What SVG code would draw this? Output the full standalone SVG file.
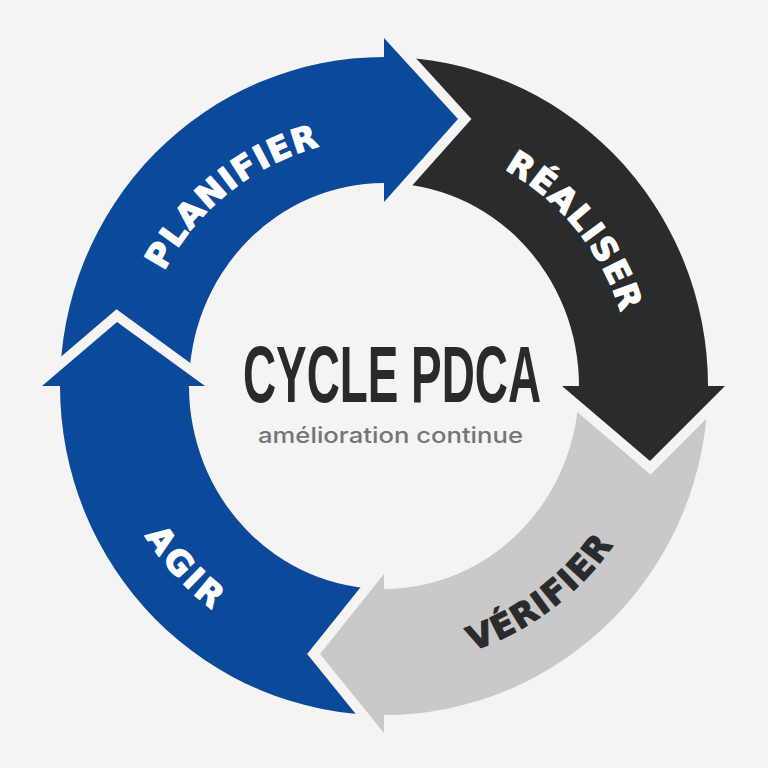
<svg xmlns="http://www.w3.org/2000/svg" width="768" height="768" viewBox="0 0 768 768">
<defs>
<style>
.bg{fill:#f4f4f4}
.gap{fill:none;stroke:#f4f4f4;stroke-width:20;stroke-linejoin:miter;stroke-miterlimit:10}
.blue{fill:#0b4a9a}
.dark{fill:#2a2b2d}
.grey{fill:#c9c9ca}
.lbl{font-family:"DejaVu Sans",Verdana,sans-serif;font-weight:bold;font-size:33px;letter-spacing:1.5px;stroke-width:1.3px;stroke-linejoin:round}
.w{fill:#ffffff;stroke:#ffffff}
.d{fill:#2a2b2d;stroke:#2a2b2d}
.title{font-family:"Liberation Sans",Arial,sans-serif;font-weight:700;font-size:80px;fill:#2a2a2b}
.sub{font-family:Inter,"Noto Sans",sans-serif;font-weight:500;font-size:22px;fill:#757575}
</style>
<path id="pPlan" d="M148.9,465.1 A248,248 0 0 1 513.2,174.3"/>
<path id="pDo" d="M303.3,151.5 A248,248 0 0 1 596.6,513.7"/>
<path id="pCheck" d="M232.1,620.0 A279,279 0 0 0 650.8,304.4"/>
<path id="pAct" d="M133.6,256.2 A282,282 0 0 0 492.4,646.3"/>
</defs>
<rect class="bg" x="0" y="0" width="768" height="768"/>

<g id="bands">
<path id="band-planifier" class="blue" d="M60,386 A324,329 0 0 1 384,57 L384,183 A195,203 0 0 0 189,386 Z"/>
<path id="band-realiser" class="dark" d="M384,57 A324,329 0 0 1 708,386 L579,386 A195,203 0 0 0 384,183 Z"/>
<path id="band-verifier" class="grey" d="M708,386 A324,329 0 0 1 384,715 L384,589 A195,203 0 0 0 579,386 Z"/>
<path id="band-agir" class="blue" d="M384,715 A324,329 0 0 1 60,386 L189,386 A195,203 0 0 0 384,589 Z"/>
</g>

<g id="node-planifier">
<polyline class="gap" points="384,38 458,119 384,202"/>
<polygon class="blue" points="384,38 458,119 384,202"/>
<text class="lbl w" text-anchor="middle"><textPath href="#pPlan" startOffset="50%">PLANIFIER</textPath></text>
</g>

<g id="node-realiser">
<polyline class="gap" points="725,386 650,461 562,386"/>
<polygon class="dark" points="725,386 650,461 562,386"/>
<text class="lbl w" text-anchor="middle"><textPath href="#pDo" startOffset="50%">RÉALISER</textPath></text>
</g>

<g id="node-verifier">
<polyline class="gap" points="384,733 320,654 384,574"/>
<polygon class="grey" points="384,733 320,654 384,574"/>
<text class="lbl d" text-anchor="middle"><textPath href="#pCheck" startOffset="50%">VÉRIFIER</textPath></text>
</g>

<g id="node-agir">
<polyline class="gap" points="42,386 117,322 205,386"/>
<polygon class="blue" points="42,386 117,322 205,386"/>
<text class="lbl w" text-anchor="middle" style="letter-spacing:3.5px"><textPath href="#pAct" startOffset="50%">AGIR</textPath></text>
</g>

<g id="center">
<text class="title" x="392" y="402" text-anchor="middle" textLength="298" lengthAdjust="spacingAndGlyphs">CYCLE PDCA</text>
<text class="sub" x="390.5" y="442.5" text-anchor="middle" textLength="265" lengthAdjust="spacingAndGlyphs">amélioration continue</text>
</g>
<g id="connectors"/>
</svg>
